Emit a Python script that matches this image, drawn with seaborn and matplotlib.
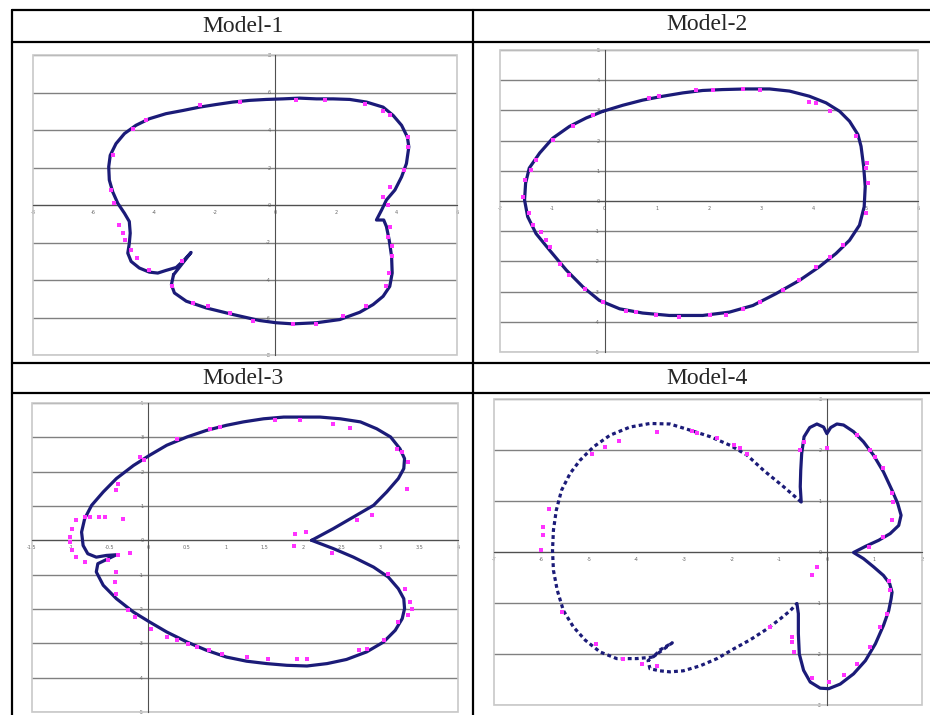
import matplotlib
matplotlib.use('Agg')
import matplotlib.pyplot as plt
from matplotlib.lines import Line2D
from matplotlib.patches import Rectangle
from matplotlib.ticker import MultipleLocator, FuncFormatter
import seaborn as sns

# ---- Model-1 ----
m1_x = [-3.36, -3.43, -3.33, -2.94, -2.28, -1.40, -0.52, 0.03, 0.58, 1.36, 2.13, 2.79, 3.23, 3.56,
        3.78, 3.86, 3.84, 3.76, 3.67, 3.58, 3.34, 3.51, 3.67, 3.95, 4.17, 4.33, 4.41, 4.36, 4.17,
        3.89, 3.56, 3.01, 2.46, 1.91, 1.36, 0.80, 0.25, -0.30, -0.85, -1.40, -1.95, -2.50, -3.05,
        -3.61, -4.16, -4.60, -4.98, -5.26, -5.45, -5.50, -5.48, -5.37, -5.20, -4.98, -4.82, -4.79,
        -4.82, -4.87, -4.76, -4.49, -4.16, -3.88, -3.61, -3.27, -3.00, -2.78]
m1_y = [-3.72, -4.25, -4.69, -5.13, -5.49, -5.84, -6.16, -6.28, -6.34, -6.28, -6.11, -5.72, -5.31, -4.87,
        -4.34, -3.63, -2.74, -1.86, -1.15, -0.80, -0.80, -0.27, 0.27, 0.80, 1.50, 2.21, 3.10, 3.63, 4.25,
        4.78, 5.22, 5.49, 5.63, 5.66, 5.66, 5.70, 5.66, 5.63, 5.58, 5.49, 5.36, 5.22, 5.04,
        4.87, 4.60, 4.25, 3.81, 3.27, 2.65, 2.04, 1.33, 0.71, 0.09, -0.44, -0.88, -1.50,
        -2.04, -2.57, -3.01, -3.36, -3.58, -3.63, -3.49, -3.33, -2.92, -2.53]
m1_px = [-4.27, -4.71, -5.37, -5.42, -5.31, -5.15, -5.02, -4.95, -4.76, -4.58, -4.16, -3.41, -2.72, -2.23,
         -1.51, -0.74, 0.58, 1.36, 2.24, 3.01, 3.67, 3.75, 3.87, 3.87, 3.73, 3.78, 3.73, 3.56, 3.78,
         4.24, 4.39, 4.39, 3.78, 3.56, 2.95, 1.63, 0.69, -1.18, -2.50, -3.08]
m1_py = [4.51, 4.07, 2.65, 0.80, 0.09, -1.06, -1.47, -1.86, -2.39, -2.83, -3.45, -4.34, -5.22, -5.40,
         -5.75, -6.16, -6.37, -6.32, -5.93, -5.40, -4.34, -3.63, -2.74, -2.21, -1.68, -1.15, 0.00, 0.44, 0.97,
         1.86, 3.10, 3.63, 4.78, 5.04, 5.40, 5.61, 5.58, 5.49, 5.31, -2.96]

# ---- Model-2 ----
m2_x = [-0.03, -0.35, -0.67, -0.99, -1.24, -1.44, -1.51, -1.53, -1.47, -1.31, -1.05, -0.73, -0.41, -0.10,
        0.29, 0.73, 1.24, 1.88, 2.39, 2.84, 3.28, 3.73, 4.11, 4.43, 4.69, 4.88, 4.97, 4.99, 4.96, 4.91,
        4.85, 4.69, 4.50, 4.24, 3.92, 3.54, 3.16, 2.71, 2.26, 1.88, 1.50, 1.12, 0.73, 0.35]
m2_y = [2.97, 2.75, 2.47, 2.08, 1.59, 1.09, 0.59, 0.03, -0.52, -1.08, -1.63, -2.29, -2.85, -3.29,
        -3.57, -3.71, -3.79, -3.79, -3.68, -3.46, -3.07, -2.63, -2.18, -1.74, -1.30, -0.80, -0.19, 0.48, 1.14, 1.81,
        2.20, 2.64, 2.97, 3.25, 3.47, 3.64, 3.71, 3.71, 3.69, 3.66, 3.58, 3.47, 3.34, 3.17]
m2_px = [1.76, 2.08, 2.65, 2.97, 1.05, 0.86, 3.92, 4.05, 4.31, 4.82, 5.02, 5.01, 5.04, 5.01, 4.56, 4.31,
         4.05, 3.73, 3.41, 2.97, 2.65, 2.33, 2.01, 1.43, 0.99, 0.61, 0.41, -0.03, -0.38, -0.67, -0.86,
         -1.05, -1.12, -1.21, -1.37, -1.44, -1.56, -1.53, -1.40, -1.31, -0.99, -0.61, -0.22]
m2_py = [3.69, 3.69, 3.71, 3.69, 3.49, 3.41, 3.27, 3.23, 2.97, 2.14, 1.25, 1.09, 0.59, -0.41, -1.47, -1.85,
         -2.18, -2.63, -2.96, -3.35, -3.57, -3.79, -3.79, -3.85, -3.79, -3.68, -3.63, -3.35, -2.90, -2.46, -2.07,
         -1.52, -1.30, -1.02, -0.80, -0.41, 0.14, 0.70, 1.03, 1.36, 2.03, 2.47, 2.86]

# ---- Model-3 ----
m3_x = [2.11, 2.39, 2.65, 2.91, 3.08, 3.23, 3.30, 3.31, 3.25, 3.13, 2.95, 2.74, 2.48, 2.22, 1.96, 1.75,
        1.49, 1.23, 1.01, 0.75, 0.50, 0.24, 0.02, -0.19, -0.41, -0.58, -0.73, -0.82, -0.86, -0.84,
        -0.78, -0.67, -0.54, -0.41, -0.65, -0.67, -0.58, -0.41, -0.19, 0.02, 0.24, 0.50, 0.75, 1.01,
        1.27, 1.53, 1.79, 2.05, 2.31, 2.56, 2.82, 3.04, 3.19, 3.28, 3.31, 3.30, 3.23, 3.10, 2.91, 2.65, 2.39]
m3_y = [0.00, 0.34, 0.68, 1.02, 1.41, 1.80, 2.09, 2.38, 2.67, 3.01, 3.25, 3.45, 3.54, 3.59, 3.59, 3.59,
        3.54, 3.45, 3.35, 3.20, 3.01, 2.77, 2.48, 2.18, 1.80, 1.41, 1.02, 0.63, 0.24, -0.15,
        -0.39, -0.49, -0.44, -0.42, -0.68, -0.92, -1.31, -1.70, -2.09, -2.38, -2.67, -2.96, -3.20, -3.40,
        -3.52, -3.59, -3.64, -3.66, -3.59, -3.47, -3.25, -2.96, -2.62, -2.28, -1.99, -1.70, -1.41, -1.07, -0.78, -0.49, -0.24]
m3_px = [0.80, 0.93, 0.37, -0.11, -0.06, -0.39, -0.41, 1.64, 1.96, 2.39, 2.61, 3.21, 3.28, 3.36, 3.34, 2.89,
         2.69, 1.90, 2.04, 1.88, 2.37, -0.32, -0.82, -0.75, -0.63, -0.56, -0.93, -0.99, -1.01, -1.01, -0.99,
         -0.93, -0.82, -0.52, -0.39, -0.23, -0.41, -0.43, -0.41, -0.26, -0.17, 0.04, 0.24, 0.37, 0.52,
         0.63, 0.78, 0.95, 1.27, 1.55, 1.92, 2.05, 2.72, 2.82, 3.04, 3.23, 3.36, 3.41, 3.38, 3.32, 3.10]
m3_py = [3.25, 3.30, 2.96, 2.43, 2.33, 1.65, 1.46, 3.50, 3.50, 3.40, 3.27, 2.67, 2.57, 2.28, 1.50, 0.73,
         0.58, 0.19, 0.24, -0.17, -0.36, 0.63, 0.68, 0.68, 0.68, 0.68, 0.58, 0.34, 0.10, -0.05, -0.29,
         -0.49, -0.63, -0.58, -0.44, -0.38, -0.92, -1.21, -1.55, -2.04, -2.23, -2.57, -2.82, -2.91, -3.01,
         -3.11, -3.20, -3.30, -3.40, -3.45, -3.45, -3.45, -3.20, -3.16, -2.91, -2.38, -2.18, -1.99, -1.80, -1.41, -0.97]

# ---- Model-4 (big loop on the left is sparsely dotted, lobes on the right are dense) ----
m4_loop_x = [-0.54, -0.91, -1.33, -1.68, -2.03, -2.45, -2.88, -3.30, -3.72, -4.14, -4.56, -4.91, -5.19, -5.40,
             -5.58, -5.69, -5.75, -5.77, -5.75, -5.67, -5.54, -5.33, -5.08, -4.77, -4.42, -4.00, -3.65, -3.51,
             -3.25, -3.76, -3.72, -3.51, -3.30, -3.02, -2.66, -2.31, -1.96, -1.61, -1.26, -0.98, -0.77, -0.63]
m4_loop_y = [0.98, 1.28, 1.60, 1.90, 2.09, 2.26, 2.39, 2.51, 2.52, 2.45, 2.29, 2.06, 1.80, 1.54,
             1.21, 0.82, 0.43, 0.03, -0.36, -0.75, -1.15, -1.47, -1.73, -1.96, -2.09, -2.09, -2.06, -1.92,
             -1.78, -2.13, -2.29, -2.33, -2.35, -2.33, -2.23, -2.09, -1.90, -1.72, -1.51, -1.31, -1.15, -1.01]
m4_lobe_x = [-0.63, -0.60, -0.60, -0.58, -0.49, -0.35, -0.14, 0.04, 0.28, 0.56, 0.81, 1.02, 1.19, 1.30, 1.35, 1.37,
             1.32, 1.19, 0.98, 0.77, 0.56, 0.81, 1.09, 1.33, 1.51, 1.56, 1.49, 1.37, 1.19, 0.98, 0.77, 0.56,
             0.35, 0.21, 0.08, 0.00, -0.07, -0.21, -0.36, -0.48, -0.53, -0.55, -0.56, -0.54]
m4_lobe_y = [-1.01, -1.21, -1.60, -2.00, -2.32, -2.55, -2.67, -2.68, -2.59, -2.39, -2.13, -1.80, -1.44, -1.15, -0.92, -0.79,
             -0.62, -0.46, -0.29, -0.13, -0.01, 0.11, 0.23, 0.36, 0.52, 0.72, 0.95, 1.21, 1.57, 1.90, 2.16, 2.36,
             2.49, 2.51, 2.44, 2.32, 2.45, 2.51, 2.44, 2.26, 1.93, 1.60, 1.28, 0.98]
m4_px = [-3.58, -4.38, -4.66, -4.94, -5.84, -5.96, -5.97, -6.01, -5.58, -4.85, -4.28, -3.89, -3.58, -2.84,
         -2.73, -2.31, -1.96, -1.82, -1.68, -1.19, -0.74, -0.74, -0.70, -0.49, -0.56, 0.01, 0.63, 0.91,
         1.02, 1.19, 1.37, 1.40, 1.37, 1.19, 0.88, -0.32, -0.21, 1.30, 1.33, 1.26, 1.12, 0.91, 0.63,
         0.35, 0.04, -0.32]
m4_py = [2.36, 2.18, 2.06, 1.93, 0.85, 0.49, 0.33, 0.03, -1.18, -1.81, -2.09, -2.19, -2.23, 2.38,
         2.34, 2.23, 2.09, 2.03, 1.93, -1.47, -1.67, -1.77, -1.96, 2.16, 2.00, 2.03, 2.29, 2.00,
         1.87, 1.64, 1.15, 0.98, 0.62, 0.29, 0.10, -0.46, -0.29, -0.56, -0.75, -1.21, -1.47, -1.87, -2.19,
         -2.42, -2.55, -2.47]

titles = ['Model-1', 'Model-2', 'Model-3', 'Model-4']
x_limits = [(-8, 6), (-2, 6), (-1.5, 4), (-7, 2)]
y_limits = [(-8, 8), (-5, 5), (-5, 4), (-3, 3)]
x_steps = [2, 1, 0.5, 1]
y_steps = [2, 1, 1, 1]

NAVY = '#1b1b78'
PINK = '#ff33ff'
W, H = 930, 715


def box(left, top, right, bottom):
    return [left / W, 1 - bottom / H, (right - left) / W, (bottom - top) / H]


def draw_curve(ax, cx, cy, closed=True, dotted=False):
    xs = cx + cx[:1] if closed else cx
    ys = cy + cy[:1] if closed else cy
    ls = (0, (1.2, 1.0)) if dotted else '-'
    sns.lineplot(x=xs, y=ys, sort=False, estimator=None, ax=ax,
                 color=NAVY, lw=2.3, linestyle=ls, zorder=3)


def excel_axes(ax, px, py, xlim, ylim, xs, ys):
    sns.scatterplot(x=px, y=py, ax=ax, color=PINK, marker='s', s=9, linewidth=0, zorder=4)
    ax.set_xlim(*xlim)
    ax.set_ylim(*ylim)
    ax.xaxis.set_major_locator(MultipleLocator(xs))
    ax.yaxis.set_major_locator(MultipleLocator(ys))
    fmt = FuncFormatter(lambda v, p: f'{v:g}')
    ax.xaxis.set_major_formatter(fmt)
    ax.yaxis.set_major_formatter(fmt)
    ax.grid(False)
    ax.yaxis.grid(True, color='#808080', lw=1.0)
    ax.set_axisbelow(True)
    for side in ['left', 'bottom']:
        ax.spines[side].set_position(('data', 0))
        ax.spines[side].set_color('#505050')
        ax.spines[side].set_linewidth(0.8)
        ax.spines[side].set_zorder(2)
    for side in ['top', 'right']:
        ax.spines[side].set_visible(False)
    ax.add_patch(Rectangle((0, 0), 1, 1, transform=ax.transAxes, fill=False,
                           ec='#c8c8c8', lw=1.2, clip_on=False, zorder=1))
    ax.tick_params(labelsize=3.5, colors='#666666', length=2, width=0.5, pad=1.5)
    ax.set_xlabel('')
    ax.set_ylabel('')


sns.set_style('white')
fig = plt.figure(figsize=(9.3, 7.15), dpi=100)

boxes = [box(33, 55, 457, 355), box(500, 50, 918, 352),
         box(32, 403, 458, 712), box(494, 399, 922, 705)]
axes = [fig.add_axes(b) for b in boxes]

draw_curve(axes[0], m1_x, m1_y)
draw_curve(axes[1], m2_x, m2_y)
draw_curve(axes[2], m3_x, m3_y)
draw_curve(axes[3], m4_loop_x, m4_loop_y, closed=False, dotted=True)
draw_curve(axes[3], m4_lobe_x, m4_lobe_y, closed=False)

points = [(m1_px, m1_py), (m2_px, m2_py), (m3_px, m3_py), (m4_px, m4_py)]
for i, ax in enumerate(axes):
    excel_axes(ax, points[i][0], points[i][1], x_limits[i], y_limits[i], x_steps[i], y_steps[i])


# table rules
def hline(y, x0=12, x1=W):
    fig.add_artist(Line2D([x0 / W, x1 / W], [1 - y / H, 1 - y / H], color='black', lw=1.6))


def vline(x, y0=10, y1=H):
    fig.add_artist(Line2D([x / W, x / W], [1 - y0 / H, 1 - y1 / H], color='black', lw=1.6))


for y in [10, 42, 363, 393]:
    hline(y)
vline(12)
vline(473)

header_pos = [(243, 27), (707, 25), (243, 378), (707, 378)]
for t, (hx, hy) in zip(titles, header_pos):
    fig.text(hx / W, 1 - hy / H, t, ha='center', va='center',
             family=['Liberation Serif', 'DejaVu Serif'], fontsize=17)

fig.savefig('out.png', dpi=100)
